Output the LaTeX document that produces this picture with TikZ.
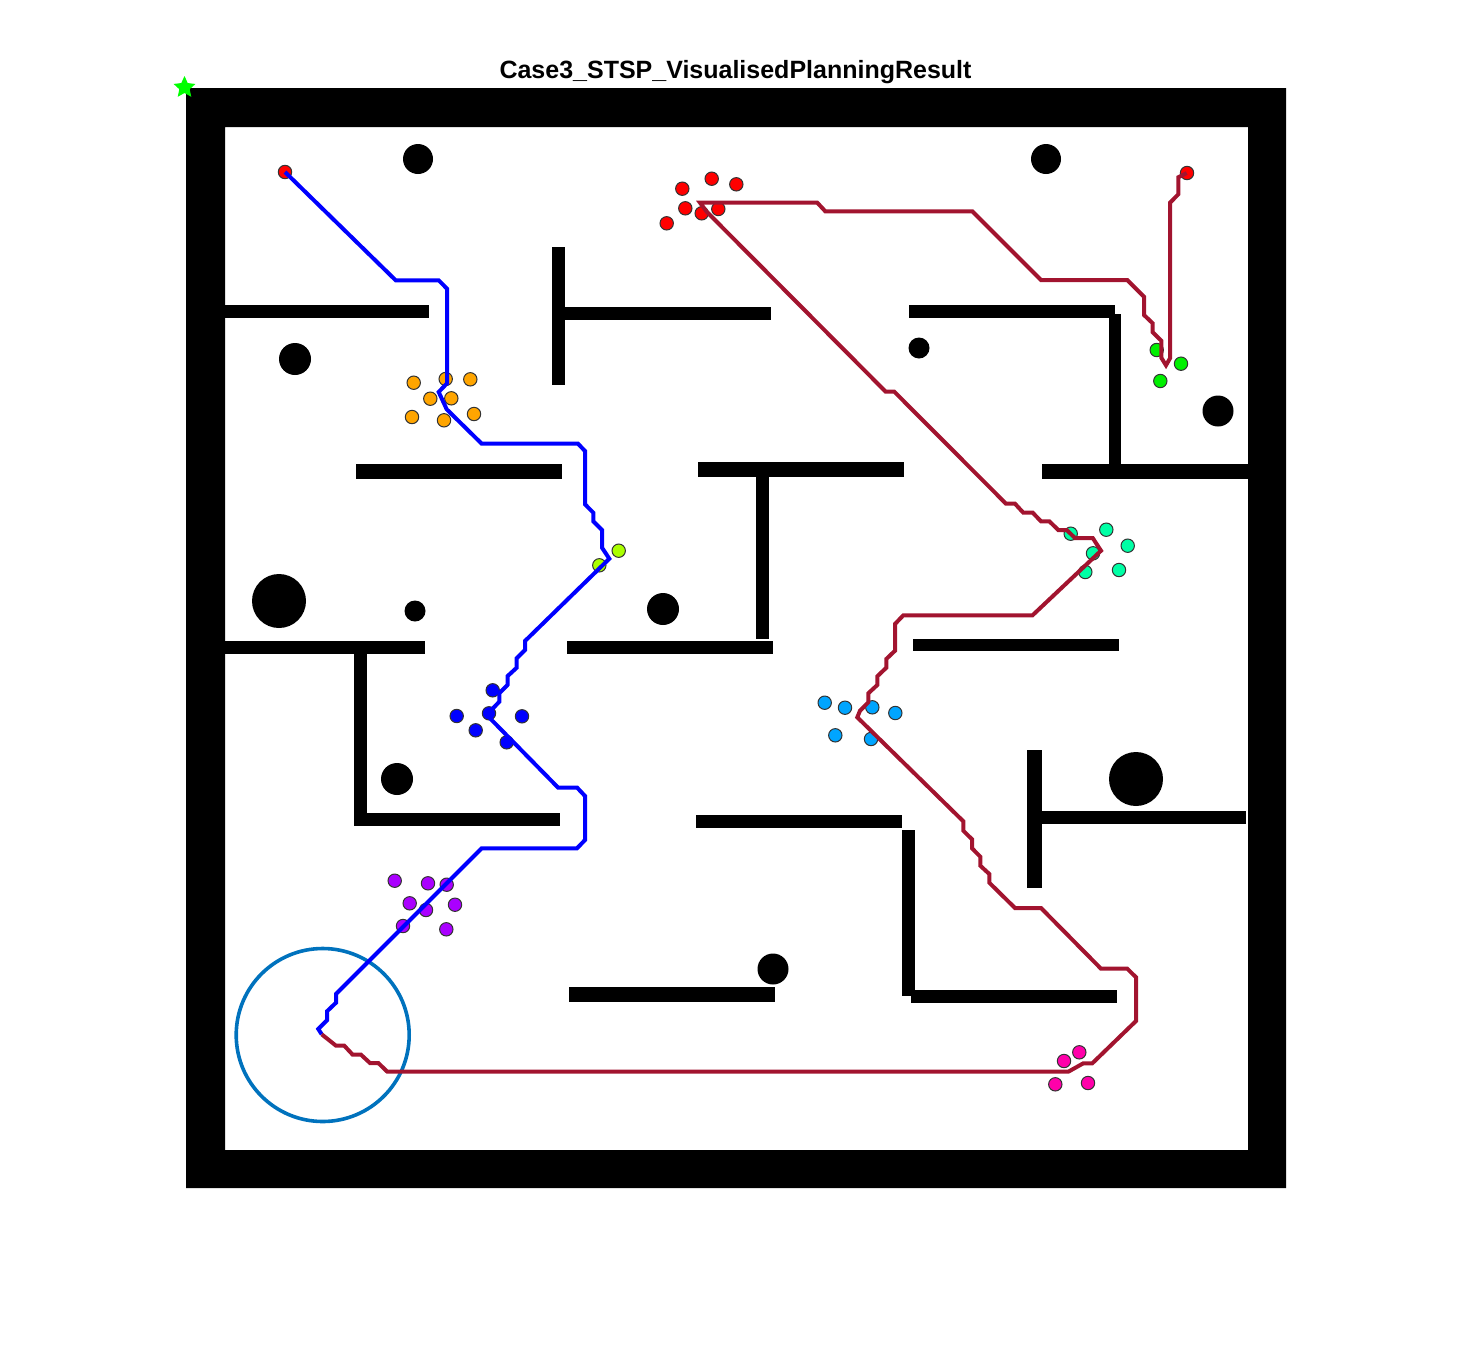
\documentclass[tikz,border=0pt]{standalone}
\usepackage{fontspec}
\setmainfont{Liberation Sans}
\usetikzlibrary{shapes.geometric}
\definecolor{dotorange}{HTML}{FFA500}
\definecolor{dotgreen}{HTML}{00F000}
\definecolor{dotteal}{HTML}{00FFA5}
\definecolor{dotlime}{HTML}{AAFF00}
\definecolor{dotsky}{HTML}{00A5FF}
\definecolor{dotpurple}{HTML}{AA00FF}
\definecolor{dotpink}{HTML}{FF00AA}
\definecolor{routeblue}{HTML}{0000FF}
\definecolor{routered}{HTML}{A2142F}
\definecolor{rangeblue}{HTML}{0072BD}
\tikzset{
  dot/.style={draw=black!80, line width=1},
  route/.style={line width=4, miter limit=3},
}
\begin{document}
\begin{tikzpicture}[x=1,y=-1]
\useasboundingbox (0,0) rectangle (1475,1355);
\node[font=\bfseries, scale=2.5] (title) at (735.5,72.5) {Case3\_STSP\_VisualisedPlanningResult};

% outer walls
\fill[even odd rule] (186,88) rectangle (1286,1188) (225,127) rectangle (1248,1150);

% inner walls
\fill (225,305) rectangle (429,318);
\fill (552,247) rectangle (565,385);
\fill (565,307) rectangle (771,320);
\fill (909,305) rectangle (1115,318);
\fill (1109,314) rectangle (1121,465);
\fill (1042,464) rectangle (1248,479);
\fill (356,464) rectangle (562,479);
\fill (698,462) rectangle (904,477);
\fill (756,477) rectangle (769,639);
\fill (225,641) rectangle (425,654);
\fill (354,654) rectangle (367,815);
\fill (354,813) rectangle (560,826);
\fill (567,641) rectangle (773,654);
\fill (913,639) rectangle (1119,651);
\fill (1027,750) rectangle (1042,888);
\fill (1042,811) rectangle (1246,824);
\fill (696,815) rectangle (902,828);
\fill (902,830) rectangle (915,996);
\fill (911,990) rectangle (1117,1003);
\fill (569,987) rectangle (775,1002);

% round obstacles
\fill (418,159) circle (15);
\fill (1046,159) circle (15);
\fill (295,359) circle (16);
\fill (919,348) circle (10.5);
\fill (1218,411) circle (15.5);
\fill (279,601) circle (27);
\fill (415,611) circle (10.5);
\fill (663,609) circle (16);
\fill (397,779) circle (16);
\fill (1136,779) circle (27);
\fill (773,969) circle (15.5);

% task points
\filldraw[dot, fill=red] (285,172) circle (6.7);
\filldraw[dot, fill=red] (1187,173) circle (6.7);
\filldraw[dot, fill=red] (682.3,188.7) circle (6.7);
\filldraw[dot, fill=red] (711.7,178.7) circle (6.7);
\filldraw[dot, fill=red] (736.3,184.3) circle (6.7);
\filldraw[dot, fill=red] (685.3,208.3) circle (6.7);
\filldraw[dot, fill=red] (701.7,213.3) circle (6.7);
\filldraw[dot, fill=red] (718.3,209) circle (6.7);
\filldraw[dot, fill=red] (666.7,223.3) circle (6.7);

\filldraw[dot, fill=dotorange] (413.7,382.7) circle (6.7);
\filldraw[dot, fill=dotorange] (445.7,379) circle (6.7);
\filldraw[dot, fill=dotorange] (470.3,379.3) circle (6.7);
\filldraw[dot, fill=dotorange] (430.3,398.7) circle (6.7);
\filldraw[dot, fill=dotorange] (451.3,398.3) circle (6.7);
\filldraw[dot, fill=dotorange] (474,414) circle (6.7);
\filldraw[dot, fill=dotorange] (412,417) circle (6.7);
\filldraw[dot, fill=dotorange] (444,420.3) circle (6.7);

\filldraw[dot, fill=dotgreen] (1156.7,350) circle (6.7);
\filldraw[dot, fill=dotgreen] (1181,363.7) circle (6.7);
\filldraw[dot, fill=dotgreen] (1160.3,381) circle (6.7);

\filldraw[dot, fill=dotteal] (1070.7,533.7) circle (6.7);
\filldraw[dot, fill=dotteal] (1106.3,529.7) circle (6.7);
\filldraw[dot, fill=dotteal] (1127.7,545.7) circle (6.7);
\filldraw[dot, fill=dotteal] (1093,553.3) circle (6.7);
\filldraw[dot, fill=dotteal] (1085.3,572) circle (6.7);
\filldraw[dot, fill=dotteal] (1119,570) circle (6.7);

\filldraw[dot, fill=dotlime] (618.7,550.7) circle (6.7);
\filldraw[dot, fill=dotlime] (599.3,565.3) circle (6.7);

\filldraw[dot, fill=routeblue] (492.7,690.3) circle (6.7);
\filldraw[dot, fill=routeblue] (489,713.3) circle (6.7);
\filldraw[dot, fill=routeblue] (456.7,716) circle (6.7);
\filldraw[dot, fill=routeblue] (522,716.3) circle (6.7);
\filldraw[dot, fill=routeblue] (475.7,730.3) circle (6.7);
\filldraw[dot, fill=routeblue] (506.7,742.3) circle (6.7);

\filldraw[dot, fill=dotsky] (824.7,702.7) circle (6.7);
\filldraw[dot, fill=dotsky] (845,707.7) circle (6.7);
\filldraw[dot, fill=dotsky] (872.3,707.3) circle (6.7);
\filldraw[dot, fill=dotsky] (895.3,713) circle (6.7);
\filldraw[dot, fill=dotsky] (835.3,735.3) circle (6.7);
\filldraw[dot, fill=dotsky] (871,739) circle (6.7);

\filldraw[dot, fill=dotpurple] (394.7,880.7) circle (6.7);
\filldraw[dot, fill=dotpurple] (428,883.3) circle (6.7);
\filldraw[dot, fill=dotpurple] (446.7,884.7) circle (6.7);
\filldraw[dot, fill=dotpurple] (409.7,903.3) circle (6.7);
\filldraw[dot, fill=dotpurple] (426,910) circle (6.7);
\filldraw[dot, fill=dotpurple] (455,904.7) circle (6.7);
\filldraw[dot, fill=dotpurple] (403,926) circle (6.7);
\filldraw[dot, fill=dotpurple] (446.3,929.3) circle (6.7);

\filldraw[dot, fill=dotpink] (1079.3,1052.3) circle (6.7);
\filldraw[dot, fill=dotpink] (1064,1061) circle (6.7);
\filldraw[dot, fill=dotpink] (1055.3,1084.3) circle (6.7);
\filldraw[dot, fill=dotpink] (1088,1083) circle (6.7);

% start marker and range circle
\node[star, star points=5, star point ratio=2.1, fill=green, inner sep=0, minimum size=23] (startmark) at (184.5,87.5) {};
\draw[rangeblue, line width=3.6] (322.7,1035) circle (86.5);

% routes
\draw[route, routeblue] (285,172) -- (395.7,280.3) -- (438.7,280.3) -- (447,288.7) -- (447,383.3) -- (438.7,392) -- (446.7,409.3) -- (481.7,443.7) -- (578,443.7) -- (585,451) -- (585,504.3) -- (593.3,512.7) -- (593.3,521.3) -- (602,530) -- (602,547.7) -- (609.3,558.7) -- (525,641) -- (525,650) -- (516.7,658.3) -- (516.7,667.7) -- (507.7,676) -- (507.7,684.7) -- (499.3,693.3) -- (499.3,701.7) -- (490.7,710.7) -- (490.7,719) -- (558,787.5) -- (577,787.5) -- (585,796) -- (585,840) -- (577,848.3) -- (481.7,848.3) -- (336,994) -- (336,1002.7) -- (327,1011.3) -- (327,1020.3) -- (318.3,1029) -- (321.7,1034.3);

\draw[route, routered] (321.7,1034.3) -- (336,1045.7) -- (344.3,1045.7) -- (352.7,1054.7) -- (361,1054.7) -- (370,1063) -- (378.3,1063) -- (387.3,1071.7) -- (1068.3,1071.7) -- (1083.3,1063.3) -- (1092.3,1063.3) -- (1136,1021) -- (1136,977.3) -- (1127.3,968.7) -- (1101,968.7) -- (1041,908) -- (1015,908) -- (989.3,882.7) -- (989.3,874) -- (980.3,865.7) -- (980.3,856.7) -- (972,848.3) -- (972,839.3) -- (963.3,830.7) -- (963.3,821.3) -- (857.3,717.3) -- (860,710.7) -- (868.3,702.3) -- (868.3,693.3) -- (877.3,685) -- (877.3,676.3) -- (886.3,667.7) -- (886.3,659) -- (895,650.7) -- (895,624) -- (903.3,615.3) -- (1032.5,615.3) -- (1101,550.7) -- (1092.7,538) -- (1075,538) -- (1066.7,530) -- (1058.3,530) -- (1049.3,521.3) -- (1041,521.3) -- (1032.7,512.7) -- (1023.3,512.7) -- (1015,503.7) -- (1006,503.7) -- (894.3,391.7) -- (885.7,391.7) -- (706.7,211.7) -- (700,202.7) -- (817.3,202.7) -- (825.3,211.3) -- (972.3,211.3) -- (1041,280) -- (1127.3,280) -- (1144,296.7) -- (1144,315) -- (1152.7,323.3) -- (1152.7,332.3) -- (1161.3,340.7) -- (1161.3,357.7) -- (1166,365.3) -- (1170,358.3) -- (1170,202.7) -- (1178.3,194.3) -- (1178.3,177.3) -- (1186.7,173);
\end{tikzpicture}
\end{document}
